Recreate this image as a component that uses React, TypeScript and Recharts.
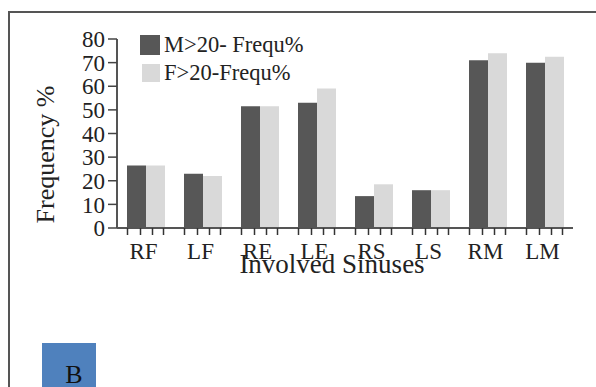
import React from 'react';
import { BarChart, Bar, XAxis, YAxis } from 'recharts';

const sinuses = ['RF', 'LF', 'RE', 'LE', 'RS', 'LS', 'RM', 'LM'];
const maleFreq = [26.5, 23, 51.5, 53, 13.5, 16, 71, 70];
const femaleFreq = [26.5, 22, 51.5, 59, 18.5, 16, 74, 72.5];
const yTicks = [0, 10, 20, 30, 40, 50, 60, 70, 80];

const seriesNames = ['M>20- Frequ%', 'F>20-Frequ%'];
const colors = ['#575757', '#d9d9d9'];
const FONT = '"Liberation Serif", "Times New Roman", serif';

const data = sinuses.map((s, i) => ({
  name: s,
  male: maleFreq[i],
  female: femaleFreq[i],
}));

// x ticks: label plus the little marks under each group
const XTick = (props: any) => {
  const { x, y, payload } = props;
  const marks = [-18, -5, 7, 18];
  return (
    <g>
      {marks.map((m) => (
        <line key={m} x1={x + m} x2={x + m} y1={y} y2={y + 7} stroke="#333" strokeWidth={1.5} />
      ))}
      <text x={x - 2} y={y + 31} textAnchor="middle" fontSize={23} fill="#222" fontFamily={FONT}>
        {payload.value}
      </text>
    </g>
  );
};

const YTitle = (props: any) => {
  const { viewBox } = props;
  const cx = viewBox.x + 45;
  const cy = viewBox.y + viewBox.height / 2 + 21;
  return (
    <text
      x={cx}
      y={cy}
      transform={`rotate(-90 ${cx} ${cy})`}
      textAnchor="middle"
      dominantBaseline="central"
      fontSize={26}
      fill="#222"
      fontFamily={FONT}
    >
      Frequency %
    </text>
  );
};

const XTitle = (props: any) => {
  const { viewBox } = props;
  const cx = viewBox.x + viewBox.width / 2 - 13;
  return (
    <text x={cx} y={viewBox.y + 45} textAnchor="middle" fontSize={27} fill="#222" fontFamily={FONT}>
      Involved Sinuses
    </text>
  );
};

const LegendBox = () => (
  <div
    style={{
      position: 'absolute',
      left: 140,
      top: 31,
      fontFamily: FONT,
      fontSize: 22.5,
      color: '#222',
      lineHeight: '28px',
    }}
  >
    {seriesNames.map((n, i) => (
      <div key={n} style={{ display: 'flex', alignItems: 'center', height: 28, whiteSpace: 'nowrap' }}>
        <span
          style={{
            display: 'inline-block',
            width: i === 0 ? 20 : 18,
            height: i === 0 ? 20 : 18,
            marginLeft: i === 0 ? 0 : 2,
            background: colors[i],
            marginRight: 4,
          }}
        />
        <span>{n}</span>
      </div>
    ))}
  </div>
);

export default function App() {
  return (
    <div
      style={{
        position: 'absolute',
        left: 0,
        top: 0,
        width: 596,
        height: 387,
        overflow: 'hidden',
        background: '#fff',
      }}
    >
      <div
        style={{
          position: 'absolute',
          left: 8,
          top: 11,
          width: 620,
          height: 420,
          border: '2px solid #555',
        }}
      />
      <div style={{ position: 'absolute', left: 0, top: 0 }}>
        <BarChart
          width={596}
          height={387}
          data={data}
          margin={{ top: 39, right: 23, left: 0, bottom: 109 }}
          barGap={0}
        >
          <XAxis
            dataKey="name"
            height={50}
            tick={<XTick />}
            tickLine={false}
            tickSize={0}
            tickMargin={0}
            axisLine={{ stroke: '#555', strokeWidth: 2 }}
            label={<XTitle />}
          />
          <YAxis
            width={117}
            domain={[0, 80]}
            ticks={yTicks}
            interval={0}
            tickSize={9}
            tickMargin={3}
            tick={{ fontSize: 23, fill: '#222', fontFamily: FONT }}
            tickLine={{ stroke: '#444', strokeWidth: 1.5 }}
            axisLine={{ stroke: '#555', strokeWidth: 2 }}
            label={<YTitle />}
          />
          <Bar dataKey="male" name={seriesNames[0]} fill={colors[0]} barSize={19} isAnimationActive={false} />
          <Bar dataKey="female" name={seriesNames[1]} fill={colors[1]} barSize={19} isAnimationActive={false} />
        </BarChart>
      </div>
      <LegendBox />
      <div
        style={{
          position: 'absolute',
          left: 42,
          top: 343,
          width: 54,
          height: 60,
          background: '#4f81bd',
          fontFamily: FONT,
          fontSize: 26,
          color: '#111',
          textAlign: 'center',
          paddingTop: 17,
          paddingLeft: 10,
          boxSizing: 'border-box',
        }}
      >
        B
      </div>
    </div>
  );
}
